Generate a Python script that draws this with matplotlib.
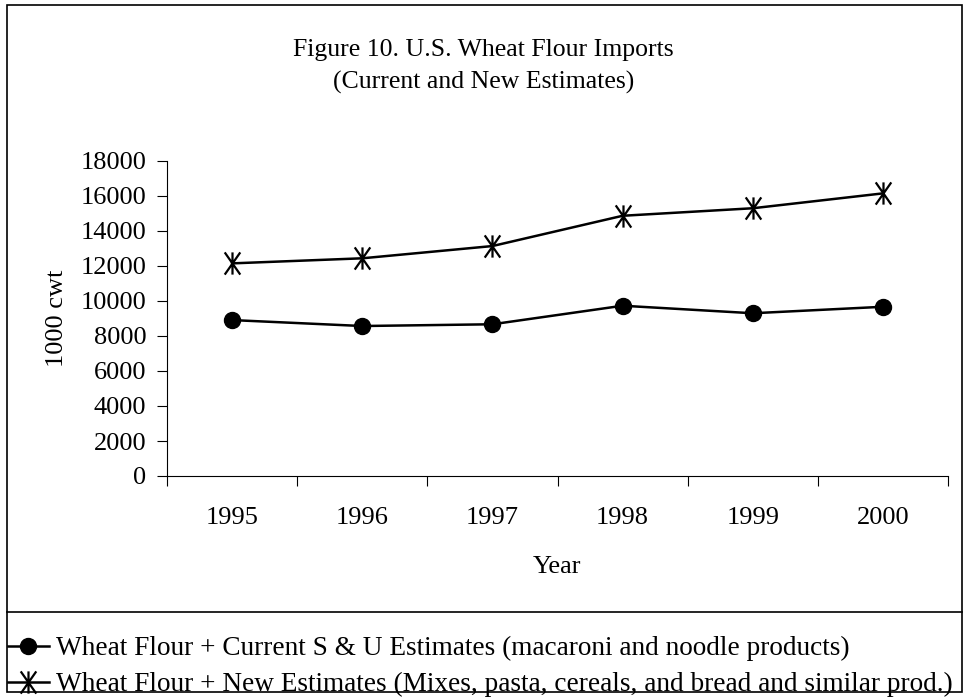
import matplotlib.pyplot as plt
from matplotlib.path import Path
from matplotlib.patches import Rectangle
from matplotlib.lines import Line2D

plt.rcParams['font.family'] = ['Liberation Serif', 'DejaVu Serif']

years = ['1995', '1996', '1997', '1998', '1999', '2000']
current = [8910, 8570, 8670, 9730, 9300, 9670]
new_est = [12150, 12440, 13140, 14870, 15300, 16150]
labels = ['Wheat Flour + Current S & U Estimates (macaroni and noodle products)',
          'Wheat Flour + New Estimates (Mixes, pasta, cereals, and bread and similar prod.)']

# asterisk-like marker (X with a vertical bar)
star = Path([(-0.7, -1), (0.7, 1), (-0.7, 1), (0.7, -1), (0, -1), (0, 1)],
            [Path.MOVETO, Path.LINETO, Path.MOVETO, Path.LINETO, Path.MOVETO, Path.LINETO])

W, H = 967, 698
fs = 19
fig = plt.figure(figsize=(W / 100, H / 100), dpi=100)
ax = fig.add_axes([167 / W, 1 - 476 / H, (948 - 167) / W, (476 - 161) / H])

x = list(range(len(years)))
l1, = ax.plot(x, current, color='black', linewidth=1.8, marker='o', markersize=11.5)
l2, = ax.plot(x, new_est, color='black', linewidth=1.8, marker=star, markersize=16,
              markeredgewidth=1.6)

ax.set_xlim(-0.5, len(years) - 0.5)
ax.set_ylim(0, 18000)
ax.set_yticks(range(0, 18001, 2000))
ax.set_xticks([i - 0.5 for i in range(len(years) + 1)])
ax.set_xticklabels([])
ax.set_xticks(x, minor=True)
ax.set_xticklabels(years, minor=True)
ax.tick_params(axis='x', which='major', length=7, color='black')
ax.tick_params(axis='x', which='minor', length=0, pad=22, labelsize=fs)
ax.tick_params(axis='y', length=7, labelsize=fs, pad=8)
for s in ['top', 'right']:
    ax.spines[s].set_visible(False)

ax.set_xlabel('Year', fontsize=fs, labelpad=20)
ax.set_ylabel('1000 cwt', fontsize=fs, labelpad=9)

fig.text(0.5, 1 - 50 / H, 'Figure 10. U.S. Wheat Flour Imports', ha='center', va='center', fontsize=18.5)
fig.text(0.5, 1 - 82 / H, '(Current and New Estimates)', ha='center', va='center', fontsize=18.5)

# outer border and legend box
fig.patches.append(Rectangle((7 / W, 1 - 692 / H), (962 - 7) / W, (692 - 5) / H,
                             transform=fig.transFigure, fill=False, edgecolor='black', linewidth=1.2))
fig.lines.append(Line2D([7 / W, 962 / W], [1 - 612 / H, 1 - 612 / H],
                        transform=fig.transFigure, color='black', linewidth=1.2))

fig.legend([l1, l2], labels, loc='upper left', bbox_to_anchor=(8 / W, 1 - 636 / H),
           frameon=False, fontsize=19.6, handlelength=1.5, handletextpad=0.25,
           labelspacing=0.4, borderpad=0, borderaxespad=0)

plt.savefig('out.png', dpi=100)
